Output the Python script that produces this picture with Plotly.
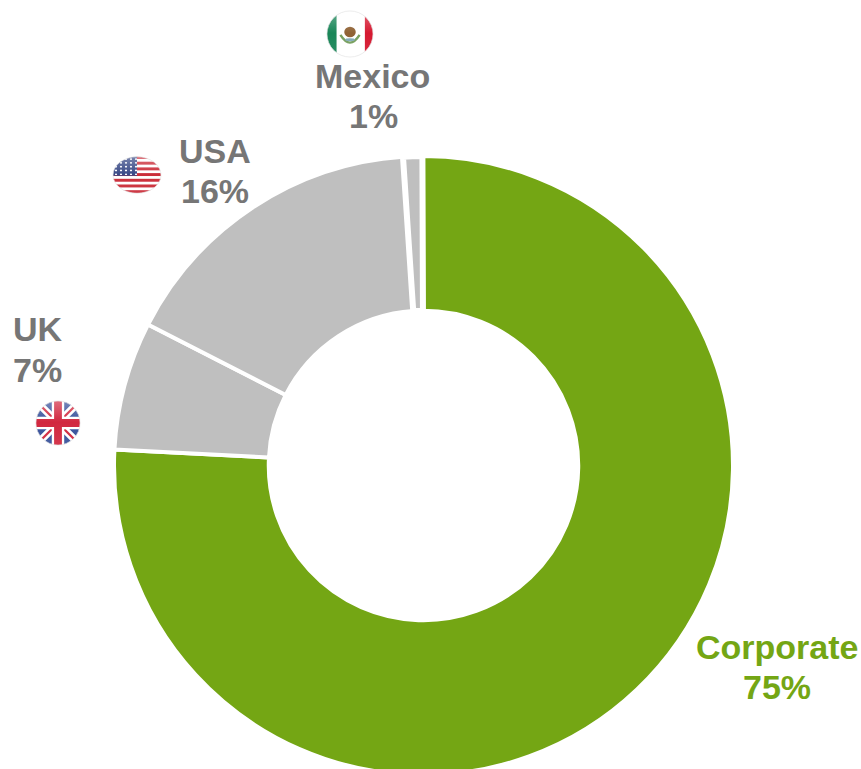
import base64
import plotly.graph_objects as go

categories = ["Corporate", "UK", "USA", "Mexico"]
values = [75.8, 6.7, 16.4, 1.0]
slice_colors = ["#74a614", "#bfbfbf", "#bfbfbf", "#bfbfbf"]
slice_line_widths = [4, 4, 4, 6]
percent_labels = ["75%", "7%", "16%", "1%"]

W, H = 861, 777
GREY = "#767676"
GREEN = "#74a614"


def px(x):
    return x / W


def py(y):
    return 1 - y / H


GLOSS = """<defs><clipPath id="c"><circle cx="50" cy="50" r="48"/></clipPath>
<linearGradient id="g" x1="0" y1="0" x2="0" y2="1"><stop offset="0" stop-color="#fff" stop-opacity=".35"/>
<stop offset=".48" stop-color="#fff" stop-opacity=".05"/><stop offset="1" stop-color="#fff" stop-opacity=".12"/></linearGradient>
<filter id="b"><feGaussianBlur stdDeviation="1.2"/></filter></defs>"""
TAIL = """</g><circle cx="50" cy="50" r="48" fill="url(#g)"/><circle cx="50" cy="50" r="48" fill="none" stroke="#e4e4e4" stroke-width="1.5"/></svg>"""


def flag(body):
    svg = ('<svg xmlns="http://www.w3.org/2000/svg" viewBox="0 0 100 100" preserveAspectRatio="none">'
           + GLOSS + '<g clip-path="url(#c)"><g filter="url(#b)">' + body + "</g>" + TAIL)
    return "data:image/svg+xml;base64," + base64.b64encode(svg.encode()).decode()


mexico = ('<rect width="100" height="100" fill="#fff"/><rect x="-5" width="27" height="110" fill="#0f7f4f"/>'
          '<rect x="81" width="25" height="110" fill="#d30a26"/>'
          '<ellipse cx="50" cy="46" rx="12" ry="11" fill="#8a5a2b"/>'
          '<path d="M30 52 Q50 84 70 52" fill="none" stroke="#6f9a55" stroke-width="5"/>'
          '<ellipse cx="50" cy="62" rx="10" ry="3" fill="#7ba7b5"/>')

stripes = "".join(f'<rect y="{y}" width="100" height="7.7" fill="#c8202f"/>' for y in range(0, 100, 15))
stars = "".join(f'<circle cx="{x}" cy="{y}" r="2.2" fill="#fff"/>'
                for y in range(8, 52, 10) for x in range(8, 50, 10))
usa = ('<rect width="100" height="100" fill="#fff"/>' + stripes
       + '<rect width="50" height="52" fill="#2d3f80"/>' + stars)

uk = ('<rect width="100" height="100" fill="#2f4a96"/>'
      '<path d="M0 0L100 100M100 0L0 100" stroke="#fff" stroke-width="16"/>'
      '<path d="M0 0L100 100M100 0L0 100" stroke="#cf1f36" stroke-width="5"/>'
      '<path d="M50 0V100M0 50H100" stroke="#fff" stroke-width="27"/>'
      '<path d="M50 0V100M0 50H100" stroke="#cf1f36" stroke-width="17"/>')

flags = [(mexico, 350, 34, 48, 48), (usa, 137, 175, 50, 38), (uk, 58, 423, 46, 46)]

label_lines = [
    ("Mexico", 372.5, 76, GREY), (percent_labels[3], 373, 116, GREY),
    ("USA", 215, 151, GREY), (percent_labels[2], 215, 191, GREY),
    ("UK", 37.5, 329, GREY), (percent_labels[1], 37.5, 370, GREY),
    ("Corporate", 776.5, 647, GREEN), (percent_labels[0], 777, 687, GREEN),
]

fig = go.Figure(go.Pie(
    labels=categories, values=values, hole=0.5, sort=False, direction="clockwise",
    rotation=-0.2, textinfo="none", hoverinfo="label+percent",
    marker=dict(colors=slice_colors, line=dict(color="#ffffff", width=slice_line_widths)),
    domain=dict(x=[px(114), px(733)], y=[py(775), py(156)]),
    showlegend=False,
))

for text, x, y, color in label_lines:
    fig.add_annotation(text=f"<b>{text}</b>", x=px(x), y=py(y), xref="paper", yref="paper",
                       xanchor="center", yanchor="middle", showarrow=False,
                       font=dict(family="Liberation Sans", size=34, color=color))

for body, x, y, w, h in flags:
    fig.add_layout_image(source=flag(body), xref="paper", yref="paper", x=px(x), y=py(y),
                         sizex=w / W, sizey=h / H, xanchor="center", yanchor="middle",
                         sizing="stretch", layer="above")

fig.update_layout(width=W, height=H, margin=dict(l=0, r=0, t=0, b=0),
                  paper_bgcolor="#ffffff", plot_bgcolor="#ffffff")
fig.write_html("out.html", config=dict(displayModeBar=False),
               post_script="document.documentElement.style.overflow='hidden';document.body.style.overflow='hidden';document.body.style.margin='0';")
